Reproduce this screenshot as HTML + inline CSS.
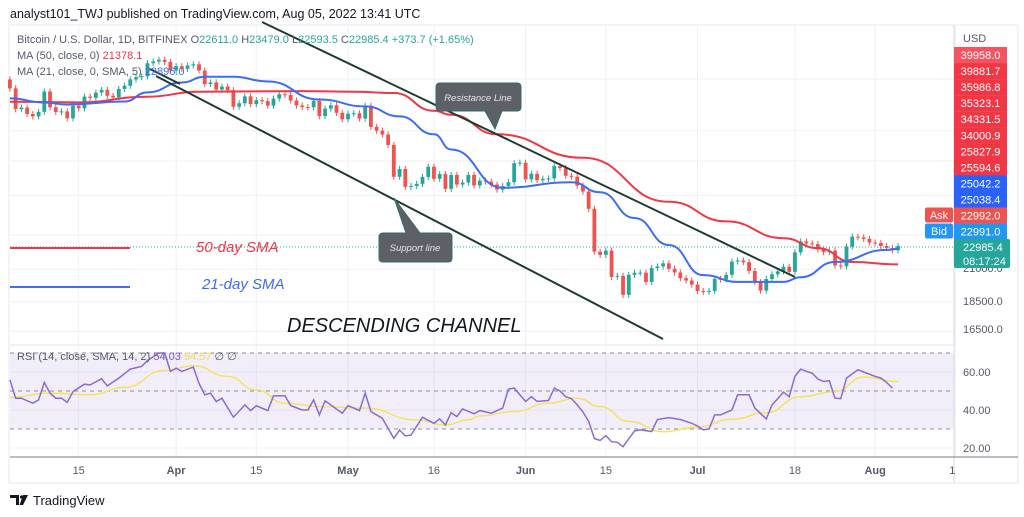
<!DOCTYPE html>
<html><head><meta charset="utf-8">
<style>
html,body{margin:0;padding:0;background:#fff;width:1024px;height:517px;overflow:hidden}
svg{display:block;font-family:"Liberation Sans",sans-serif}
</style></head>
<body>
<svg id="chart" width="1024" height="517" viewBox="0 0 1024 517" xmlns="http://www.w3.org/2000/svg">
  <text x="10" y="18" font-size="12.5" fill="#131722">analyst101_TWJ published on TradingView.com, Aug 05, 2022 13:41 UTC</text>
  <rect x="9" y="25" width="1009" height="458" fill="#fff" stroke="#e6e9ef" stroke-width="1"/>
  <g id="grid"></g>
  <rect x="10" y="353" width="944" height="76" fill="#7e57c2" fill-opacity="0.1"/>
  <g id="rsiGuides"></g>
  <g id="candles"></g>
  <g id="mas"></g>
  <g id="rsi"></g>
  <line x1="10" y1="247" x2="954" y2="247" stroke="#26a69a" stroke-width="1" stroke-dasharray="1,2"/>
  <!-- trend lines -->
  <line x1="262" y1="22" x2="795" y2="277" stroke="#1f3a30" stroke-width="2"/>
  <line x1="156" y1="76" x2="663" y2="339" stroke="#1f3a30" stroke-width="2"/>
  <line x1="150" y1="69" x2="180" y2="84" stroke="#1f3a30" stroke-width="2"/>
  <!-- callouts -->
  <g>
    <path d="M440 83 H517 Q521 83 521 87 V107 Q521 111 517 111 H502 L495 129 L485 111 H440 Q436 111 436 107 V87 Q436 83 440 83 Z" fill="#5d6066" stroke="#2f6f6a" stroke-width="1"/>
    <text x="478" y="101" font-size="9.5" font-style="italic" fill="#e6e6e6" text-anchor="middle">Resistance Line</text>
  </g>
  <g>
    <path d="M383 233 H406 L394 198 L420 233 H448 Q452 233 452 237 V258 Q452 262 448 262 H383 Q379 262 379 258 V237 Q379 233 383 233 Z" fill="#5d6066" stroke="#2f6f6a" stroke-width="1"/>
    <text x="415" y="251" font-size="9.5" font-style="italic" fill="#e6e6e6" text-anchor="middle">Support line</text>
  </g>
  <line x1="10" y1="248" x2="130" y2="248" stroke="#f23645" stroke-width="2"/>
  <text x="196" y="252" font-size="15" font-style="italic" fill="#f23645">50-day SMA</text>
  <line x1="10" y1="287" x2="130" y2="287" stroke="#3d6cf5" stroke-width="2"/>
  <text x="202" y="289" font-size="15" font-style="italic" fill="#3d6cf5">21-day SMA</text>
  <text x="287" y="332" font-size="20" font-style="italic" fill="#131722">DESCENDING CHANNEL</text>
  <!-- legend -->
  <g font-size="11">
    <text x="17" y="43" fill="#555a66">Bitcoin / U.S. Dollar, 1D, BITFINEX <tspan fill="#555a66">O</tspan><tspan fill="#26a69a">22611.0</tspan> <tspan fill="#555a66">H</tspan><tspan fill="#26a69a">23479.0</tspan> <tspan fill="#555a66">L</tspan><tspan fill="#26a69a">22593.5</tspan> <tspan fill="#555a66">C</tspan><tspan fill="#26a69a">22985.4 +373.7 (+1.65%)</tspan></text>
    <text x="17" y="59" fill="#555a66">MA (50, close, 0) <tspan fill="#f23645">21378.1</tspan></text>
    <text x="17" y="75" fill="#555a66">MA (21, close, 0, SMA, 5) <tspan fill="#3d6cf5">22896.0</tspan></text>
  </g>
  <text x="17" y="360" font-size="11" fill="#555a66">RSI (14, close, SMA, 14, 2) <tspan fill="#7e57c2">54.03</tspan> <tspan fill="#f0dc5a">54.57</tspan> ∅ ∅</text>
  <!-- axes -->
  <line x1="954" y1="25" x2="954" y2="483" stroke="#d1d4dc"/>
  <line x1="10" y1="345" x2="954" y2="345" stroke="#e0e3eb"/>
  <line x1="10" y1="457" x2="1018" y2="457" stroke="#787b86"/>
  <g id="timeAxis"></g>
  <g id="priceAxis"></g>
  <g>
    <path d="M10 495 H19 V505 H16 V498 H10 Z" fill="#131722"/>
    <circle cx="21.5" cy="497" r="1.6" fill="#131722"/>
    <path d="M23 495 H28 L23 505 H19.5 Z" fill="#131722"/>
    <text x="33" y="505" font-size="13" fill="#131722">TradingView</text>
  </g>
</svg>
<script>
// ---- data ----
const firstOpen = 43950;
const closes = [
42450,39150,39400,38420,38060,38740,41940,39440,38730,38810,37790,39670,39280,41110,40920,41760,42200,41260,41000,42360,42890,43960,44350,44500,46820,47130,47450,47060,45530,
46280,45810,46400,46620,45500,43170,43440,42250,42750,42160,39530,40070,41150,39940,40550,40400,39700,40800,41500,41370,40480,39710,39470,39450,40430,38120,39240,39740,38600,37640,
38470,38530,37750,39690,36550,36010,35470,34060,30100,31020,28940,29030,29280,30080,31300,29860,30420,28720,30310,29200,29430,30320,29100,29650,29540,29200,28630,29030,29470,31730,31790,
29800,30450,29700,29860,29910,31370,31130,30210,30110,29080,28420,26570,22490,22210,22580,20390,20470,19010,20550,20720,20720,19990,21100,21230,21490,21040,20740,20280,20100,19780,
19300,19250,19300,20230,20180,20550,21640,21730,21590,20860,19970,19330,20220,20590,20830,21200,20790,22430,23400,23230,23160,22680,22450,22580,21310,21250,22950,23840,23780,23640,23300,
23270,22990,22820,22610,22985];
const firstDay = 2; // Mar 3 (days since Mar 1)
const sma50Days = [2,14,26,35,53,62,69,76,79,87,102,117,127,137,143,149,157];
const sma50Vals = [40300,40200,41100,41900,42000,41900,41700,38900,38300,35500,32400,27300,25300,23700,22800,21600,21400];
const sma21Days = [2,8,12,22,26,32,36,41,47,56,64,70,76,79,88,100,105,111,117,123,129,137,140,146,155,157];
const sma21Vals = [40830,40180,39860,40340,41790,43430,44430,44430,43600,40660,39580,38060,35500,33460,28830,29470,28330,25640,23080,20530,19990,19990,20360,21600,22640,22730];
const rsiDays = [2,3,4,6,7,8,9,10,11,12,13,15,16,18,19,21,23,25,26,28,29,30,31,32,34,35,36,37,38,39,41,43,44,45,47,48,50,51,53,54,55,56,57,60,61,63,64,65,67,69,70,71,72,74,76,77,78,79,80,81,83,84,86,88,89,90,92,93,94,96,97,98,99,100,101,102,103,104,105,106,107,108,109,111,112,114,115,117,119,121,122,123,124,125,126,128,129,131,132,134,135,136,137,138,139,140,141,142,143,144,145,146,147,148,150,151,153,154,155,156];
const rsiVals = [55.9,46.2,46.2,43.6,45.3,54.5,48.9,46.2,46.2,44,49.7,53.6,53.2,56.4,52.7,56.8,61.5,63,66,70,70,60.3,62,60.3,62.6,54,48,48.9,44.4,46.2,36.2,42.7,39.7,42.2,39.7,47.4,47.4,42.3,40,40,45.3,37.4,44.8,38.3,42.3,39.7,48.9,39.2,35.6,25.1,29.5,26.3,26.8,36.2,33,35.3,32.1,38.6,36.5,40.6,38,39.7,38.3,41,51,51.5,44.5,47,44.5,45,51.5,50,47,46,42.7,39,34,25,24,26.5,23.3,23,20.7,29,29.5,28.7,35,36,35,33,31.6,29.5,30,37.4,37.4,40,48,48,41,35.3,42.7,46,49.4,47,57.7,61.5,60.3,59.4,56.3,55,55.4,46.2,46,56.8,61.2,60,57.7,56.8,54.5,51.5,54.7];
const sigDays = [2,9,16,22,29,34,40,45,50,56,64,73,78,82,84,90,96,101,105,110,116,122,128,134,140,146,151,157];
const sigVals = [46.7,48.9,48,51.9,60.8,63.3,57.7,50.6,43.6,41.8,41,34.8,32.1,34.8,36.9,39.2,43.6,46.2,41.8,34,28.6,31,35.1,38.6,47,49.7,57.3,55];
const timeTicks = [14,31,45,61,76,92,106,122,139,153,167];
const timeLabels = ["15","Apr","15","May","16","Jun","15","Jul","18","Aug","15"];
const priceGrid = [16500,18500,21000,24000,28000,32000,36000,44000];
const rsiTicks = [60,40,20];

// ---- scales ----
const NS = "http://www.w3.org/2000/svg";
function xD(d){ return 348 + (d-61)*5.73; }
function yP(p){ return 2827 - 257*Math.log(p); }
function yR(v){ return 429 - (v-30)*1.9; }
function mk(tag, attrs, parent){ const e=document.createElementNS(NS,tag); for(const k in attrs) e.setAttribute(k,attrs[k]); parent.appendChild(e); return e; }

// grid
const grid = document.getElementById('grid');
timeTicks.forEach(d=>{
  const l = mk('line',{x1:xD(d),x2:xD(d),y1:26,y2:457,stroke:'#eef1f6'},grid);
  
  
});
priceGrid.forEach(p=>{
  const l = mk('line',{x1:10,x2:954,y1:yP(p),y2:yP(p),stroke:'#eef1f6'},grid);
  
  
});
rsiTicks.forEach(v=>{
  const l = mk('line',{x1:10,x2:954,y1:yR(v),y2:yR(v),stroke:'#eef1f6'},grid);
  
  
});
const rg = document.getElementById('rsiGuides');
[70,50,30].forEach(v=>{
  const l = mk('line',{x1:10,x2:954,y1:yR(v),y2:yR(v),stroke:'#8a8d96','stroke-dasharray':'4,4'},rg);
  
  
});

// candles
const cg = document.getElementById('candles');
let prev = firstOpen;
closes.forEach((c,i)=>{
  const o = prev; prev = c;
  const d = firstDay + i, x = xD(d);
  const up = c >= o, col = up ? '#26a69a' : '#ef5350';
  const hi = Math.max(o,c)*1.012, lo = Math.min(o,c)*0.988;
  const w = mk('line',{x1:x,x2:x,y1:yP(hi),y2:yP(lo),stroke:col,'stroke-width':1},cg);
  
  
  const yt = yP(Math.max(o,c)), yb = yP(Math.min(o,c));
  const b = mk('rect',{x:x-1.9,y:yt,width:3.8,height:Math.max(1,yb-yt),fill:col},cg);
  
  
});

// smooth path helper
function pathOf(xs, ys){
  let s = 'M'+xs[0].toFixed(1)+' '+ys[0].toFixed(1);
  for(let i=1;i<xs.length;i++){
    const x0=xs[i-1],y0=ys[i-1],x1=xs[i],y1=ys[i];
    const mx=(x0+x1)/2;
    s += ' C'+mx.toFixed(1)+' '+y0.toFixed(1)+' '+mx.toFixed(1)+' '+y1.toFixed(1)+' '+x1.toFixed(1)+' '+y1.toFixed(1);
  }
  return s;
}
const mg = document.getElementById('mas');
const p50 = mk('path',{d:pathOf(sma50Days.map(xD),sma50Vals.map(yP)),fill:'none',stroke:'#f23645','stroke-width':2},mg);


const p21 = mk('path',{d:pathOf(sma21Days.map(xD),sma21Vals.map(yP)),fill:'none',stroke:'#3d6cf5','stroke-width':2},mg);



// RSI
const rgp = document.getElementById('rsi');
const sig = mk('path',{d:pathOf(sigDays.map(xD),sigVals.map(yR)),fill:'none',stroke:'#f5e35f','stroke-width':1.5},rgp);


const rl = mk('polyline',{points:rsiDays.map((d,i)=>xD(d).toFixed(1)+','+yR(rsiVals[i]).toFixed(1)).join(' '),fill:'none',stroke:'#8a6bd1','stroke-width':1.5},rgp);



// time axis labels
const ta = document.getElementById('timeAxis');
timeTicks.forEach((d,i)=>{
  const t = mk('text',{x:xD(d),y:474,'font-size':11,'text-anchor':'middle',fill:'#555a66','font-weight':(timeLabels[i].length>2?'bold':'normal')},ta);
  t.textContent = timeLabels[i];
  
  
});
const cover = mk('rect',{x:955,y:458,width:62,height:24,fill:'#fff'},ta);



// price axis labels
const pa = document.getElementById('priceAxis');
const boxLabels = ["39958.0","39881.7","35986.8","35323.1","34331.5","34000.9","25827.9","25594.6","25042.2","25038.4","22992.0","22991.0"];
const boxColors = ["#f23645","#f23645","#f23645","#f23645","#f23645","#f23645","#f23645","#f23645","#2962ff","#2962ff","#ef5350","#2196f3"];
const usd = mk('text',{x:963,y:42,'font-size':11,fill:'#555a66'},pa);
usd.textContent='USD';


boxLabels.forEach((lab,i)=>{
  const y = 47 + i*16.05;
  const r = mk('rect',{x:954,y:y,width:53,height:16.2,fill:boxColors[i]},pa);
  if(i===0) r.setAttribute('fill-opacity','0.85');
  
  
  const t = mk('text',{x:980.5,y:y+12,'font-size':11,fill:'#fff','text-anchor':'middle'},pa);
  t.textContent = lab;
  
  
});
[["Ask","#ef5350",207],["Bid","#2196f3",223]].forEach(a=>{
  const r = mk('rect',{x:925,y:a[2]+0.5,width:28,height:15,rx:2,fill:a[1]},pa);
  
  
  const t = mk('text',{x:939,y:a[2]+12,'font-size':11,fill:'#fff','text-anchor':'middle'},pa);
  t.textContent = a[0];
  
  
});
const t21 = mk('text',{x:963,y:272,'font-size':11,fill:'#555a66'},pa);
t21.textContent='21000.0';


const gb = mk('rect',{x:954,y:239,width:56,height:29,rx:2,fill:'#26a69a'},pa);


const g1 = mk('text',{x:963,y:251,'font-size':11,fill:'#fff'},pa);
g1.textContent='22985.4';


const g2 = mk('text',{x:963,y:265,'font-size':11,fill:'#fff'},pa);
g2.textContent='08:17:24';


["18500.0","16500.0"].forEach((lab,i)=>{
  const t = mk('text',{x:963,y:[305,333][i],'font-size':11,fill:'#555a66'},pa);
  t.textContent = lab;
  
  
});
rsiTicks.forEach(v=>{
  const t = mk('text',{x:963,y:yR(v)+4,'font-size':11,fill:'#555a66'},pa);
  t.textContent = v.toFixed(2);
  
  
});
</script>
</body></html>
